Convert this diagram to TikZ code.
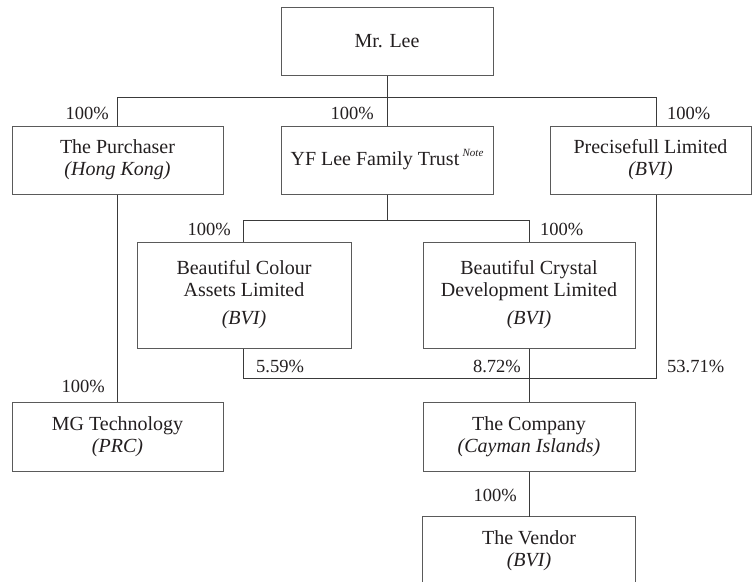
\documentclass[tikz,border=0pt]{standalone}
\usepackage{fontspec}
\setmainfont{Liberation Serif}
\definecolor{txt}{HTML}{231F20}
\definecolor{boxline}{HTML}{5A5A5A}
\definecolor{conn}{HTML}{3A3A3A}
\begin{document}
\begin{tikzpicture}[x=1pt,y=-1pt,
  entity/.style={draw=boxline, line width=1pt, rectangle, align=center, text=txt,
    inner sep=0pt, font=\fontsize{20}{22}\selectfont},
  pct/.style={text=txt, inner sep=0pt, font=\fontsize{18.5}{20}\selectfont},
  link/.style={draw=conn, line width=1pt}]
\clip (0,0) rectangle (752,581);
\fill[white] (0,0) rectangle (752,581);

% boxes
\node[entity, minimum width=212pt, minimum height=68pt] (lee) at (387,41) {Mr. Lee};
\node[entity, minimum width=211pt, minimum height=68pt] (purch) at (117.5,160) {The Purchaser\\\textit{(Hong Kong)}};
\node[entity, minimum width=212pt, minimum height=68pt] (yf) at (387,160)
  {YF Lee Family Trust\,\raisebox{9pt}{\fontsize{11}{11}\selectfont\textit{Note}}};
\node[entity, minimum width=201pt, minimum height=68pt] (prec) at (650.5,160) {Precisefull Limited\\\textit{(BVI)}};
\node[entity, minimum width=214pt, minimum height=106pt] (colour) at (244,295) {Beautiful Colour\\Assets Limited\\[6pt]\textit{(BVI)}};
\node[entity, minimum width=212pt, minimum height=106pt] (crystal) at (529,295) {Beautiful Crystal\\Development Limited\\[6pt]\textit{(BVI)}};
\node[entity, minimum width=211pt, minimum height=69pt] (mg) at (117.5,436.5) {MG Technology\\\textit{(PRC)}};
\node[entity, minimum width=212pt, minimum height=69pt] (company) at (529,436.5) {The Company\\\textit{(Cayman Islands)}};
\node[draw=none, minimum width=212pt, minimum height=73pt, inner sep=0pt] (vendor) at (529,553.5) {};
\node[text=txt, align=center, font=\fontsize{20}{22}\selectfont, inner sep=0pt] (vendortxt) at (529,551) {The Vendor\\\textit{(BVI)}};
\draw[boxline, line width=1pt] (vendor.south west) -- (vendor.north west) -- (vendor.north east) -- (vendor.south east);

% junction coordinates
\coordinate (j1) at (387,97);
\coordinate (j1l) at (117,97);
\coordinate (j1r) at (656,97);
\coordinate (j2) at (387,220);
\coordinate (j2l) at (243,220);
\coordinate (j2r) at (529,220);
\coordinate (j3l) at (243,378);
\coordinate (j3m) at (529,378);
\coordinate (j3r) at (656,378);

% connectors
\draw[link] (lee.south) -- (yf.north);
\draw[link] (purch.north -| j1l) -- (j1l) -- (j1r) -- (prec.north -| j1r);
\draw[link] (yf.south) -- (j2);
\draw[link] (colour.north -| j2l) -- (j2l) -- (j2r) -- (crystal.north);
\draw[link] (colour.south -| j3l) -- (j3l) -- (j3r) -- (prec.south -| j3r);
\draw[link] (crystal.south) -- (company.north);
\draw[link] (purch.south -| j1l) -- (mg.north -| j1l);
\draw[link] (company.south) -- (vendor.north);

% percentages
\node[pct, anchor=east] (p1) at (109,113) {100\%};
\node[pct, anchor=east] (p2) at (374,113) {100\%};
\node[pct, anchor=west] (p3) at (667,113) {100\%};
\node[pct, anchor=east] (p4) at (231,229) {100\%};
\node[pct, anchor=west] (p5) at (540,229) {100\%};
\node[pct, anchor=west] (p6) at (256,366) {5.59\%};
\node[pct, anchor=east] (p7) at (521,366) {8.72\%};
\node[pct, anchor=west] (p8) at (667,366) {53.71\%};
\node[pct, anchor=east] (p9) at (105,386) {100\%};
\node[pct, anchor=east] (p10) at (517,495) {100\%};
\end{tikzpicture}
\end{document}
